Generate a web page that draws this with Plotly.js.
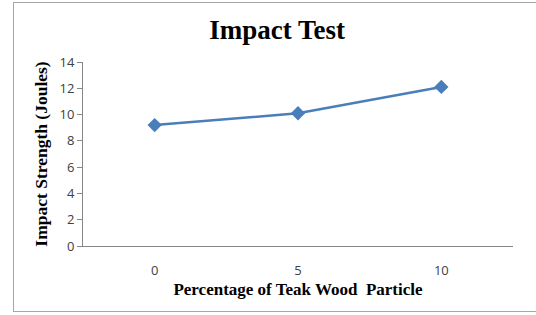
<!DOCTYPE html>
<html><head><meta charset="utf-8">
<script src="https://cdn.plot.ly/plotly-3.0.1.min.js"></script>
<style>
html,body{margin:0;padding:0;background:#fff;}
#frame{position:absolute;left:13px;top:2px;width:530px;height:310px;border:1px solid #a6a6a6;box-sizing:border-box;}
#chart{position:absolute;left:0;top:0;width:536px;height:315px;}
</style></head>
<body>
<div id="frame"></div>
<div id="chart"></div>
<script>
const categories = ["0", "5", "10"];
const impactStrength = [9.2, 10.1, 12.1];
const yTicks = [0, 2, 4, 6, 8, 10, 12, 14];

const trace = {
  x: categories, y: impactStrength, type: 'scatter', mode: 'lines+markers',
  line: {color: '#4a7ebb', width: 2.5},
  marker: {symbol: 'diamond', size: 11, color: '#4a7ebb'},
  cliponaxis: false, hoverinfo: 'none'
};
const layout = {
  width: 536, height: 315,
  margin: {l: 83, r: 23, t: 62, b: 69},
  paper_bgcolor: 'rgba(0,0,0,0)', plot_bgcolor: 'rgba(0,0,0,0)',
  showlegend: false,
  title: {text: '<b>Impact Test</b>', x: 0.517, xanchor: 'center', y: 0.905, yanchor: 'middle',
          font: {family: 'Liberation Serif', size: 27, color: '#000'}},
  xaxis: {type: 'category', range: [-0.5, 2.5], showgrid: false, zeroline: false,
          showline: true, linecolor: '#868686', linewidth: 1, ticks: 'outside',
          ticklen: 12, tickcolor: 'rgba(0,0,0,0)', tickfont: {family: 'Open Sans', size: 13, color: '#404040'},
          title: {text: '<b>Percentage of Teak Wood  Particle</b>', standoff: 5,
                  font: {family: 'Liberation Serif', size: 17, color: '#000'}}},
  yaxis: {range: [0, 14], tickvals: yTicks, showgrid: false, zeroline: false,
          showline: true, linecolor: '#868686', linewidth: 1, ticks: 'outside', ticklen: 5,
          tickcolor: '#868686', tickfont: {family: 'Open Sans', size: 13, color: '#404040'},
          title: {text: '<b>Impact Strength (Joules)</b>', standoff: 7,
                  font: {family: 'Liberation Serif', size: 17.5, color: '#000'}}}
};
Plotly.newPlot('chart', [trace], layout, {staticPlot: true, displayModeBar: false});
</script>
</body></html>
